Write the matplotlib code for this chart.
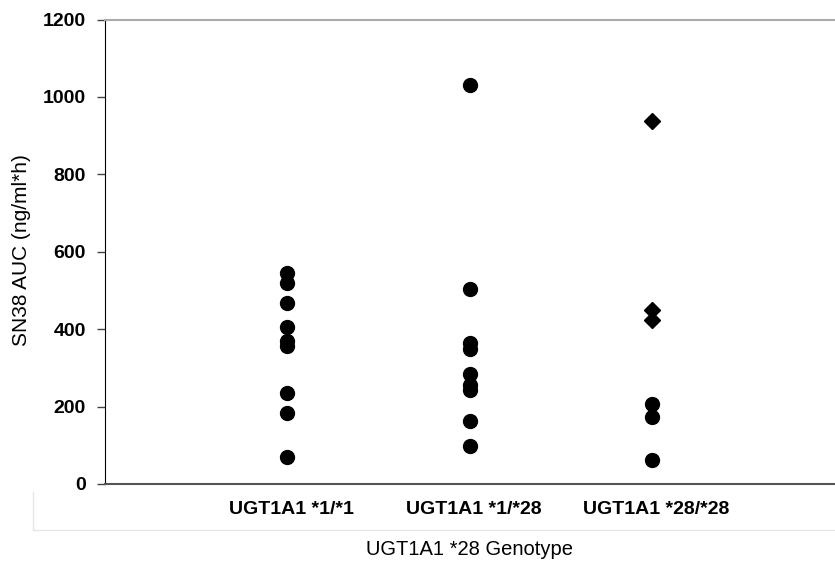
import matplotlib.pyplot as plt
from matplotlib.lines import Line2D

plt.rcParams['font.family'] = ['Liberation Sans', 'DejaVu Sans']

# SN38 AUC values (ng/ml*h)
genotypes = ['UGT1A1 *1/*1', 'UGT1A1 *1/*28', 'UGT1A1 *28/*28']
auc_1_1 = [545, 520, 468, 405, 370, 356, 235, 183, 70]
auc_1_28 = [1032, 505, 365, 348, 285, 255, 242, 163, 98]
auc_28_28_dia = [937, 449, 423]
auc_28_28_dot = [206, 173, 62]
yticks = [0, 200, 400, 600, 800, 1000, 1200]

fig = plt.figure(figsize=(8.35, 5.61), dpi=100)
ax = fig.add_axes([0.1257, 0.1373, 0.8743, 0.8279])

ax.plot([1] * len(auc_1_1), auc_1_1, 'o', color='black', ms=10, clip_on=False)
ax.plot([2] * len(auc_1_28), auc_1_28, 'o', color='black', ms=10, clip_on=False)
ax.plot([3] * len(auc_28_28_dia), auc_28_28_dia, 'D', color='black', ms=7.8, clip_on=False)
ax.plot([3] * len(auc_28_28_dot), auc_28_28_dot, 'o', color='black', ms=10, clip_on=False)

ax.set_xlim(0, 4)
ax.set_ylim(0, 1200)
ax.set_yticks(yticks)
ax.set_yticklabels([str(v) for v in yticks], fontsize=14, fontweight='bold')
ax.tick_params(axis='y', direction='out', length=5.8, width=1, color='#444444', pad=8)

ax.set_xticks([1.02, 2.02, 3.02])
ax.set_xticklabels(genotypes, fontsize=14, fontweight='bold')
ax.tick_params(axis='x', length=0, pad=12)

ax.set_ylabel('SN38 AUC (ng/ml*h)', fontsize=15, va='center')
ax.yaxis.set_label_coords(-0.1137, 0.503)
ax.set_xlabel('UGT1A1 *28 Genotype', fontsize=14.5, va='center')
ax.xaxis.set_label_coords(0.5, -0.142)

ax.spines['right'].set_visible(False)
ax.spines['top'].set_color('#aaaaaa')
ax.spines['top'].set_linewidth(1.5)
ax.spines['bottom'].set_color('#555555')
ax.spines['bottom'].set_linewidth(1.5)
ax.spines['left'].set_color('black')

# faint frame left over below the axis
fig.add_artist(Line2D([33 / 835, 1], [1 - 530 / 561] * 2, color='#e6e6e6', lw=1))
fig.add_artist(Line2D([33 / 835] * 2, [1 - 492 / 561, 1 - 530 / 561], color='#e6e6e6', lw=1))

fig.savefig('out.png', dpi=100)
